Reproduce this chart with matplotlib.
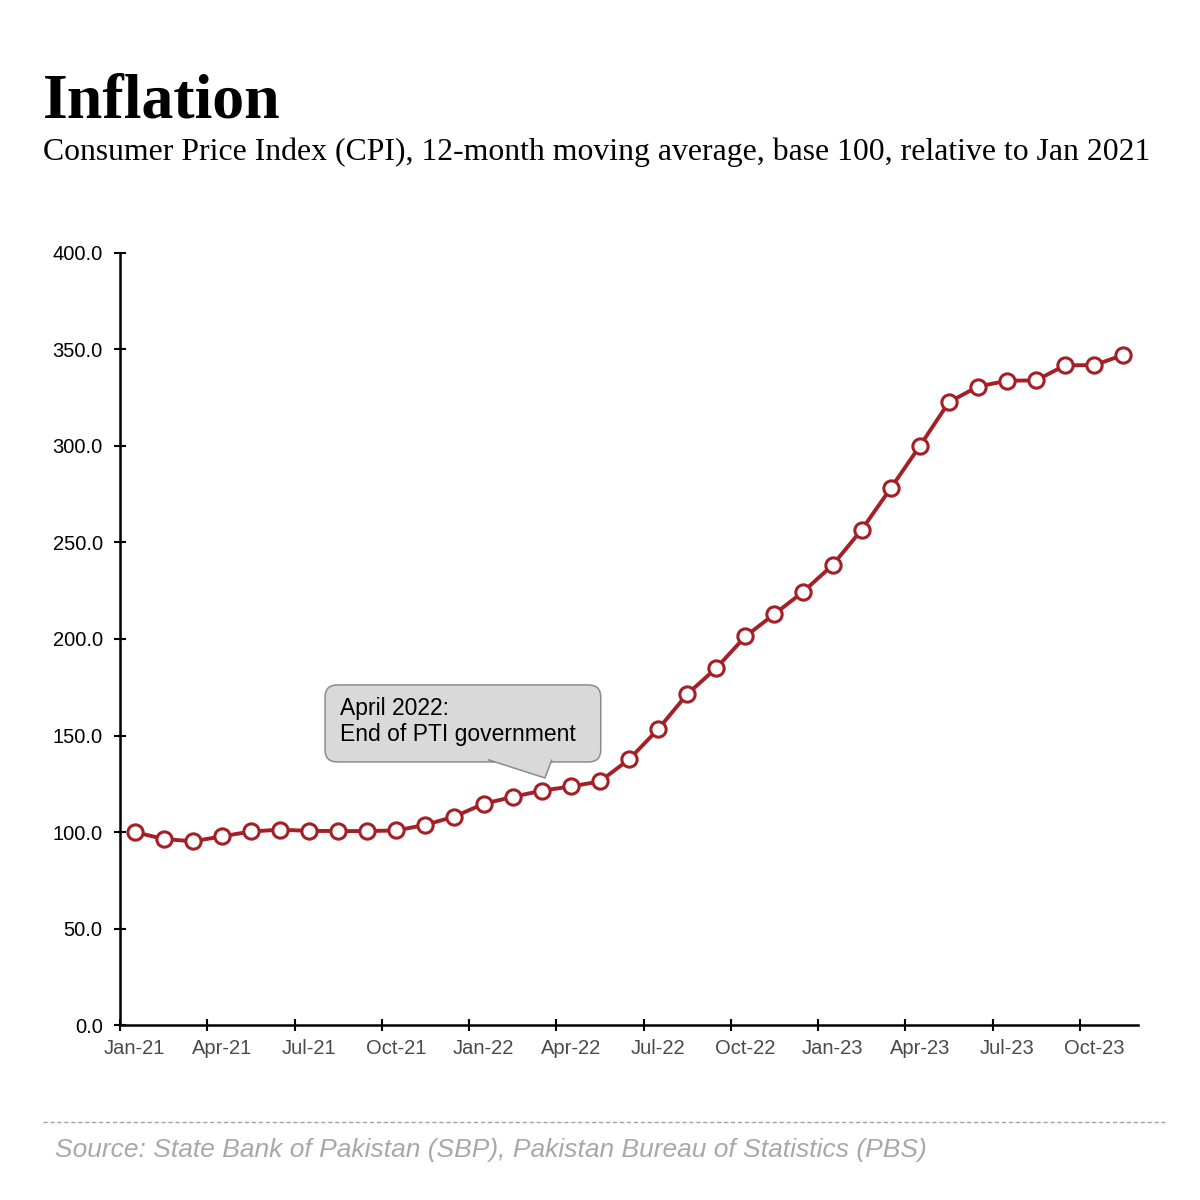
"""
Inflation chart: CPI 12-month moving average, base 100 = Jan 2021.
Single line with hollow markers on a monthly category axis.
"""

import matplotlib
matplotlib.use("Agg")
import matplotlib.pyplot as plt
from matplotlib.patches import FancyBboxPatch, PathPatch
from matplotlib.path import Path
from matplotlib.lines import Line2D

# ── data ──────────────────────────────────────────────────────────────────
months = [
    "Jan-21", "Feb-21", "Mar-21", "Apr-21", "May-21", "Jun-21",
    "Jul-21", "Aug-21", "Sep-21", "Oct-21", "Nov-21", "Dec-21",
    "Jan-22", "Feb-22", "Mar-22", "Apr-22", "May-22", "Jun-22",
    "Jul-22", "Aug-22", "Sep-22", "Oct-22", "Nov-22", "Dec-22",
    "Jan-23", "Feb-23", "Mar-23", "Apr-23", "May-23", "Jun-23",
    "Jul-23", "Aug-23", "Sep-23", "Oct-23", "Nov-23",
]
cpi_index = [
    100.0, 96.4, 95.2, 97.7, 100.3, 101.2,
    100.6, 100.5, 100.5, 100.8, 103.7, 108.0,
    114.6, 118.2, 121.4, 123.6, 126.2, 137.6,
    153.2, 171.4, 184.9, 201.3, 212.9, 224.6,
    238.3, 256.6, 278.1, 300.0, 322.7, 330.8,
    333.8, 334.0, 341.8, 341.9, 347.2,
]
yticks = [0, 50, 100, 150, 200, 250, 300, 350, 400]

TITLE    = "Inflation"
SUBTITLE = "Consumer Price Index (CPI), 12-month moving average, base 100, relative to Jan 2021"
SOURCE   = "Source: State Bank of Pakistan (SBP), Pakistan Bureau of Statistics (PBS)"
NOTE     = "April 2022:\nEnd of PTI government"

RED  = "#a51f26"
GREY_BOX  = "#d9d9d9"
GREY_EDGE = "#8c8c8c"

# callout geometry in data units (x = month slot, y = index value)
BOX_X0, BOX_X1 = 7.05, 16.53
BOX_Y0, BOX_Y1 = 136.3, 176.2
PTR_L, PTR_R, PTR_TIP = 12.65, 14.85, (14.61, 128.0)


def main():
    plt.rcParams["font.family"] = ["Liberation Sans", "DejaVu Sans"]

    fig = plt.figure(figsize=(12, 12), dpi=100)
    ax = fig.add_axes([0.100, 0.1458, 0.8483, 0.6434])

    x = [i + 0.5 for i in range(len(months))]
    ax.plot(x, cpi_index, color=RED, lw=2.8, marker="o", ms=11,
            mfc="white", mec=RED, mew=2.2, zorder=4, clip_on=False)

    # ── axes ──────────────────────────────────────────────────────────────
    ax.set_xlim(0, len(months))
    ax.set_ylim(0, 400)
    for side in ("top", "right"):
        ax.spines[side].set_visible(False)
    for side in ("left", "bottom"):
        ax.spines[side].set_linewidth(1.8)
        ax.spines[side].set_color("black")

    ax.set_yticks(yticks)
    ax.set_yticklabels([f"{v:.1f}" for v in yticks], fontsize=14.5, color="black")
    ax.tick_params(axis="y", direction="inout", length=9, width=1.5, pad=8)

    # ticks sit on month boundaries, labels on the month centre
    major = list(range(0, len(months), 3))
    ax.set_xticks(major)
    ax.set_xticklabels([""] * len(major))
    ax.set_xticks([m + 0.5 for m in major], minor=True)
    ax.set_xticklabels([months[m] for m in major], minor=True,
                       fontsize=14.5, color="#4a4a4a")
    ax.tick_params(axis="x", which="major", direction="inout",
                   length=9, width=1.5)
    ax.tick_params(axis="x", which="minor", length=0, pad=10)

    # ── callout ───────────────────────────────────────────────────────────
    px_x = ax.bbox.width / len(months)
    px_y = ax.bbox.height / 400
    box = FancyBboxPatch((BOX_X0, BOX_Y0), BOX_X1 - BOX_X0, BOX_Y1 - BOX_Y0,
                         boxstyle="round,pad=0,rounding_size=0.42",
                         mutation_aspect=px_x / px_y,
                         fc=GREY_BOX, ec=GREY_EDGE, lw=1.1, zorder=5)
    ax.add_patch(box)
    # open path: filled as a triangle, stroked only on the two slanted sides
    inset = 1.2
    ptr = Path([(PTR_L, BOX_Y0 + inset), PTR_TIP, (PTR_R, BOX_Y0 + inset)],
               [Path.MOVETO, Path.LINETO, Path.LINETO])
    ax.add_patch(PathPatch(ptr, fc=GREY_BOX, ec=GREY_EDGE, lw=1.1, zorder=6))
    ax.text(BOX_X0 + 0.52, BOX_Y1 - 6.5, NOTE, fontsize=16.5, va="top",
            ha="left", color="black", linespacing=1.15, zorder=7)

    # ── titles and source ─────────────────────────────────────────────────
    fig.text(0.036, 1 - 117 / 1200, TITLE, fontsize=46, fontweight="bold",
             family="Liberation Serif", va="baseline", ha="left")
    fig.text(0.036, 1 - 160 / 1200, SUBTITLE, fontsize=22.9,
             family="Liberation Serif", va="baseline", ha="left")

    fig.add_artist(Line2D([0.036, 0.971], [1 - 1122 / 1200] * 2,
                          transform=fig.transFigure, color="#a0a0a0",
                          lw=1.0, ls=(0, (3, 2))))
    fig.text(0.046, 1 - 1157 / 1200, SOURCE, fontsize=19, style="italic",
             color="#a8a8a8", va="baseline", ha="left")

    fig.savefig("out.png", dpi=100)
    plt.close(fig)


if __name__ == "__main__":
    main()
